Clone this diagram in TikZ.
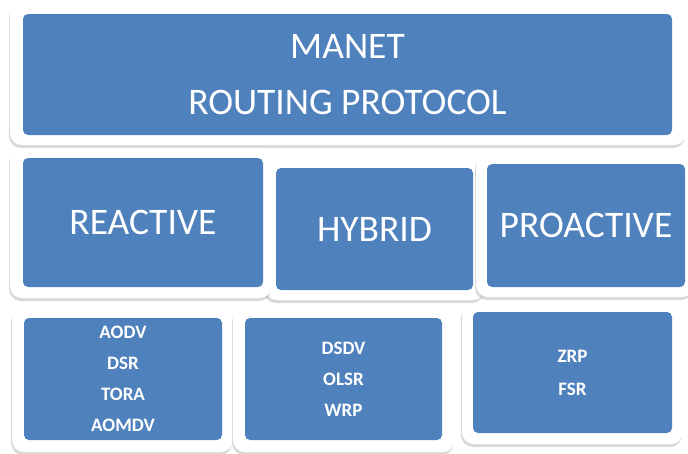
\documentclass[tikz,border=0pt]{standalone}
\usepackage{fontspec}
\setmainfont{Carlito}
\usetikzlibrary{shadows}
\definecolor{tileblue}{RGB}{79,129,189}

\begin{document}
\begin{tikzpicture}[
    x=1pt, y=-1pt,
    frame/.style={rectangle, fill=white, rounded corners=12pt, inner sep=0pt, drop shadow={shadow xshift=-1pt, shadow yshift=-3pt, opacity=0.15, fill=black}},
    tile/.style={rectangle, fill=tileblue, rounded corners=5pt, inner sep=0pt, text=white, align=center},
    big/.style={font=\fontsize{37.5}{56}\selectfont},
    small/.style={font=\bfseries\fontsize{19}{31}\selectfont}
]
    \useasboundingbox (0,0) rectangle (688,453);

    \node[frame, minimum width=676pt, minimum height=142pt] (mframe) at (348,74) {};
    \node[tile, big, minimum width=649pt, minimum height=121pt] (manet) at (347.5,74.5) {MANET\\ROUTING PROTOCOL};

    \node[frame, minimum width=220pt, minimum height=142pt] (hframe) at (375,229) {};
    \node[frame, minimum width=262pt, minimum height=150pt] (rframe) at (141,223) {};
    \node[frame, minimum width=218pt, minimum height=144pt] (pframe) at (585,225) {};
    \node[tile, big, minimum width=240pt, minimum height=129pt] (reactive) at (143,222.5) {REACTIVE};
    \node[tile, big, minimum width=197pt, minimum height=122pt] (hybrid) at (374.5,229) {HYBRID};
    \node[tile, big, minimum width=198pt, minimum height=123pt] (proactive) at (586,225.5) {PROACTIVE};

    \node[frame, minimum width=221pt, minimum height=145pt] (rlframe) at (122.5,379.5) {};
    \node[frame, minimum width=222pt, minimum height=145pt] (hlframe) at (344,379.5) {};
    \node[frame, minimum width=221pt, minimum height=141pt] (plframe) at (572.5,373.5) {};
    \node[tile, small, minimum width=198pt, minimum height=122pt] (rlist) at (123,379) {AODV\\DSR\\TORA\\AOMDV};
    \node[tile, small, minimum width=197pt, minimum height=122pt] (hlist) at (343.5,379) {DSDV\\OLSR\\WRP};
    \node[tile, small, font=\bfseries\fontsize{19}{33}\selectfont, minimum width=199pt, minimum height=121pt] (plist) at (572.5,372.5) {ZRP\\FSR};
\end{tikzpicture}
\end{document}
